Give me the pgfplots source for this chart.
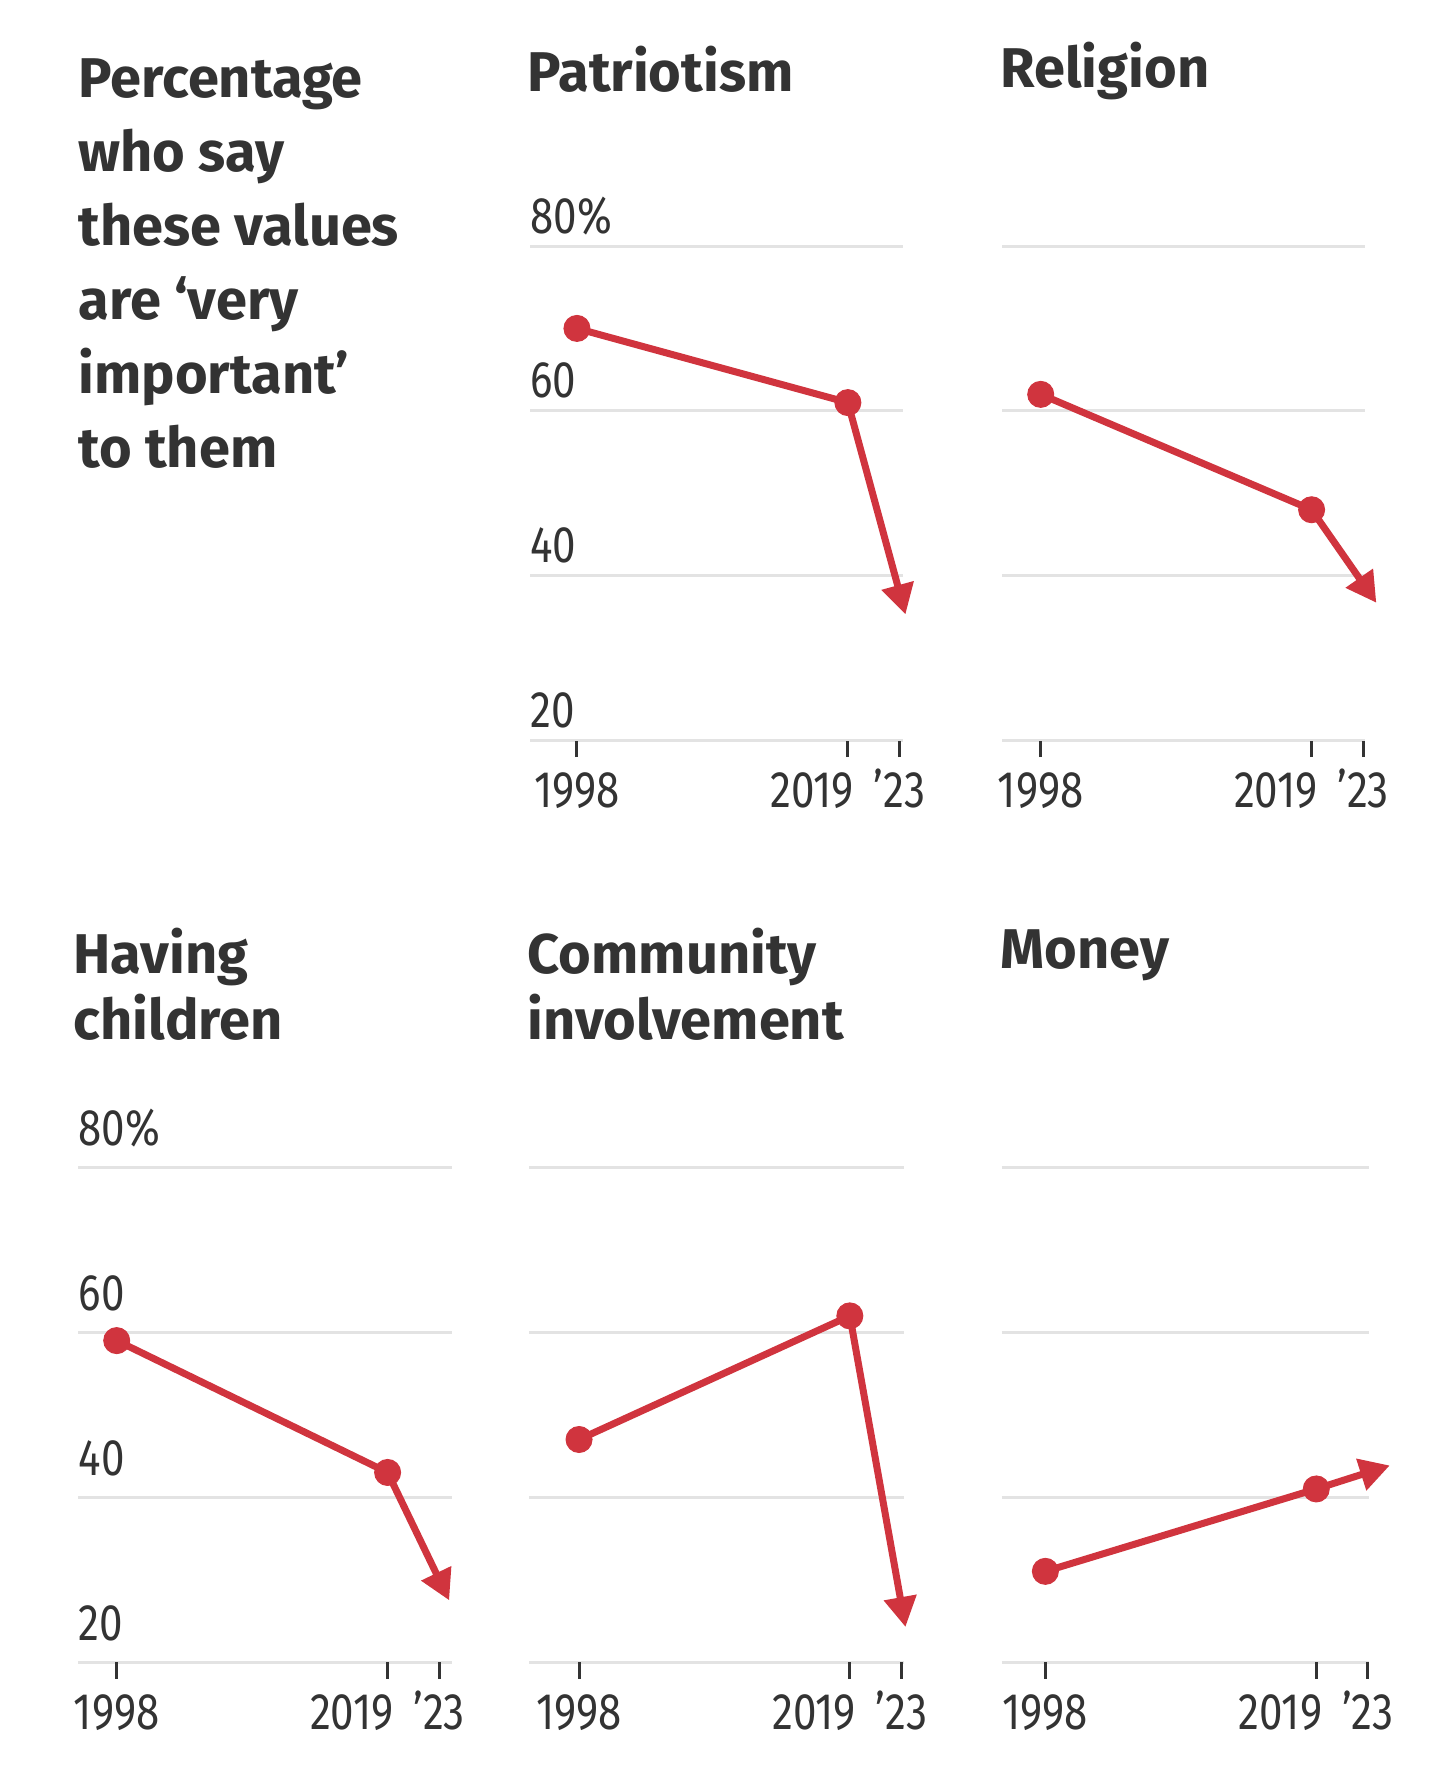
\documentclass[border=0pt]{standalone}
\usepackage{fontspec}
\setmainfont{Fira Sans}
\newfontfamily\tickfont[FakeStretch=0.82]{Fira Sans}
\usepackage{pgfplots}
\pgfplotsset{compat=1.18}
\usetikzlibrary{arrows.meta}
\definecolor{wsjred}{HTML}{D0343E}
\definecolor{gridc}{HTML}{E3E3E3}
\definecolor{ink}{HTML}{333333}

\newcommand\tfont{\fontsize{16.8pt}{20pt}\selectfont\bfseries}
\newcommand\lfont{\tickfont\fontsize{15.4pt}{16pt}\selectfont}

\pgfplotsset{
  panel/.style={
    scale only axis, height=148.35pt,
    ymin=20, ymax=80,
    clip=false,
    axis line style={draw=none},
    xtick={1998,2019,2023},
    xticklabels={1998,{\kern3.6pt\makebox[0pt][r]{2019}},’23},
    ytick={20,40,60,80},
    ymajorgrids,
    grid style={gridc, line width=0.9pt},
    tick align=outside,
    major tick length=5pt,
    xtick pos=left, ytick pos=left,
    ytick style={draw=none},
    xtick style={draw=ink, line width=0.9pt},
    xticklabel style={font=\lfont, text=ink, anchor=base, inner sep=0pt, yshift=-15.1pt},
    yticklabel style={font=\lfont, text=ink, anchor=base west, inner sep=0pt, xshift=5pt},
  },
  ylab/.style={yticklabels={20,40,60,80\%}},
  noylab/.style={yticklabels={}},
  trend/.style={wsjred, line width=2.1pt, line join=round,
    -{Triangle[length=9pt,width=9.5pt]}, shorten >=-6.9pt},
  dots/.style={only marks, mark=*, mark size=3.9pt,
    mark options={fill=wsjred, draw=wsjred, line width=0.3pt}},
}

\begin{document}
\begin{tikzpicture}
\path[use as bounding box] (0,0) rectangle (432pt,-537.3pt);

% ---------- Row 1 ----------
\begin{axis}[panel, ylab, xmin=1994.35, xmax=2023.3, width=112.04pt,
  at={(158.96pt,-222.15pt)}, anchor=south west,
  yticklabel style={yshift=3.9pt}]
  \addplot[trend] coordinates {(1998,70) (2019,61) (2023,38)};
  \addplot[dots] coordinates {(1998,70) (2019,61)};
\end{axis}

\begin{axis}[panel, noylab, xmin=1995.0, xmax=2023.1, width=108.75pt,
  at={(300.6pt,-222.15pt)}, anchor=south west]
  \addplot[trend] coordinates {(1998,62) (2019,48) (2023,39)};
  \addplot[dots] coordinates {(1998,62) (2019,48)};
\end{axis}

% ---------- Row 2 ----------
\begin{axis}[panel, ylab, xmin=1995.0, xmax=2024.0, width=112.23pt,
  at={(23.4pt,-498.6pt)}, anchor=south west,
  yticklabel style={yshift=6.6pt}]
  \addplot[trend] coordinates {(1998,59) (2019,43) (2023,30)};
  \addplot[dots] coordinates {(1998,59) (2019,43)};
\end{axis}

\begin{axis}[panel, noylab, xmin=1994.12, xmax=2023.2, width=112.5pt,
  at={(158.7pt,-498.6pt)}, anchor=south west]
  \addplot[trend] coordinates {(1998,47) (2019,62) (2023,27)};
  \addplot[dots] coordinates {(1998,47) (2019,62)};
\end{axis}

\begin{axis}[panel, noylab, xmin=1994.6, xmax=2023.1, width=110.3pt,
  at={(300.45pt,-498.6pt)}, anchor=south west]
  \addplot[trend] coordinates {(1998,31) (2019,41) (2023,43)};
  \addplot[dots] coordinates {(1998,31) (2019,41)};
\end{axis}

% ---------- Titles ----------
\begin{scope}[every node/.style={anchor=base west, inner sep=0pt, text=ink, font=\tfont}]
\node at (23.4pt,-29.4pt) {Percentage};
\node at (23.4pt,-51.5pt) {who say};
\node at (23.4pt,-73.6pt) {these values};
\node at (23.4pt,-96.0pt) {are ‘very};
\node at (23.4pt,-118.2pt) {important’};
\node at (23.4pt,-140.3pt) {to them};

\node at (158.1pt,-27.6pt) {Patriotism};
\node at (300.0pt,-26.4pt) {Religion};

\node at (21.9pt,-291.9pt) {Having};
\node at (21.9pt,-311.7pt) {children};
\node at (158.1pt,-291.9pt) {Community};
\node at (158.1pt,-311.7pt) {involvement};
\node at (300.0pt,-290.4pt) {Money};
\end{scope}
\end{tikzpicture}
\end{document}
